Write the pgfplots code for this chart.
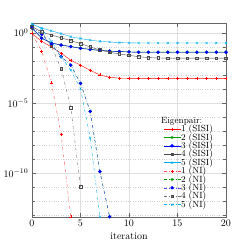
\documentclass[border=0pt]{standalone}
\usepackage{pgfplots}
\pgfplotsset{compat=1.18}
\definecolor{cgreen}{rgb}{0,0.6,0}
\definecolor{cgrey}{rgb}{0.3,0.3,0.3}
\begin{document}
\begin{tikzpicture}
\path[use as bounding box] (-32pt,-33pt) rectangle (218pt,217pt);
\begin{axis}[
  at={(0,0)}, anchor=south west,
  scale only axis, width=194pt, height=194pt,
  ymode=log, xmin=0, xmax=20, ymin=7.2e-14, ymax=5.1,
  xtick={0,5,10,15,20},
  ytick={1,1e-5,1e-10},
  minor ytick={1e-13,1e-12,1e-11,1e-9,1e-8,1e-7,1e-6,1e-4,1e-3,1e-2,1e-1},
  grid=both,
  major grid style={gray!25, line width=0.4pt},
  minor grid style={gray!35, dotted, line width=0.4pt},
  axis line style={gray!80!black},
  tick style={gray!80!black},
  tick align=inside,
  xlabel={iteration},
  xlabel style={yshift=1pt},
  clip mode=individual,
  every axis plot/.append style={line width=0.4pt, mark size=1.5pt},
  legend cell align=left,
  legend style={at={(rel axis cs:0.95,0.03)}, anchor=south east, draw=none, fill=none,
    font=\small, nodes={inner sep=0.2pt}, row sep=-0.25pt},
]
\addlegendimage{empty legend}
\addlegendentry{\hspace*{-20pt}Eigenpair:\rule[-6pt]{0pt}{6pt}}
% SISI
\addplot[red, mark=+] coordinates {(0,0.891)(1,0.251)(2,0.1)(3,0.0355)(4,0.0112)(5,5.01e-3)(6,2.14e-3)(7,1e-3)(8,6.76e-4)(9,5.89e-4)(10,5.75e-4)(11,5.75e-4)(12,5.75e-4)(13,5.75e-4)(14,5.75e-4)(15,5.75e-4)(16,5.75e-4)(17,5.75e-4)(18,5.75e-4)(19,5.75e-4)(20,5.75e-4)};
\addlegendentry{1 (SISI)}
\addplot[cgreen, mark=o] coordinates {(0,2.29)(1,0.42)(2,0.195)(3,0.138)(4,0.107)(5,0.081)(6,0.067)(7,0.057)(8,0.051)(9,0.047)(10,0.044)(11,0.042)(12,0.042)(13,0.042)(14,0.042)(15,0.042)(16,0.042)(17,0.042)(18,0.042)(19,0.042)(20,0.042)};
\addlegendentry{2 (SISI)}
\addplot[blue, mark=*] coordinates {(0,2.29)(1,0.417)(2,0.191)(3,0.135)(4,0.105)(5,0.0794)(6,0.0661)(7,0.0562)(8,0.0501)(9,0.0468)(10,0.0437)(11,0.0417)(12,0.0417)(13,0.0417)(14,0.0417)(15,0.0417)(16,0.0417)(17,0.0417)(18,0.0417)(19,0.0417)(20,0.0417)};
\addlegendentry{3 (SISI)}
\addplot[cgrey, mark=square, mark size=1.3pt] coordinates {(0,2.82)(1,1.17)(2,0.708)(3,0.447)(4,0.282)(5,0.174)(6,0.1)(7,0.0603)(8,0.0417)(9,0.0316)(10,0.0251)(11,0.02)(12,0.0174)(13,0.0162)(14,0.0158)(15,0.0158)(16,0.0158)(17,0.0158)(18,0.0158)(19,0.0158)(20,0.0158)};
\addlegendentry{4 (SISI)}
\addplot[cyan, mark=x] coordinates {(0,4.37)(1,2.24)(2,1.41)(3,0.891)(4,0.537)(5,0.398)(6,0.302)(7,0.251)(8,0.224)(9,0.204)(10,0.195)(11,0.191)(12,0.191)(13,0.191)(14,0.191)(15,0.191)(16,0.191)(17,0.191)(18,0.191)(19,0.191)(20,0.191)};
\addlegendentry{5 (SISI)}
% NI
\addplot[red!70, dashdotted, mark=+, mark options={solid, red}] coordinates {(0,0.891)(1,0.0501)(2,2.69e-4)(3,5.75e-8)(4,7.5e-14)};
\addlegendentry{1 (NI)}
\addplot[cgreen, dashdotted, mark=o, mark options={solid}] coordinates {(0,2.29)(1,0.794)(2,0.158)(3,0.02)(4,5.01e-3)(5,2.51e-4)(6,2.51e-6)(7,1.26e-10)(8,7.5e-14)};
\addlegendentry{2 (NI)}
\addplot[blue!70, dashdotted, mark=*, mark options={solid, blue}] coordinates {(0,2.29)(1,0.794)(2,0.158)(3,0.02)(4,5.01e-3)(5,2.51e-4)(6,2.51e-6)(7,1.26e-10)(8,7.5e-14)};
\addlegendentry{3 (NI)}
\addplot[cgrey!80, dashdotted, mark=square, mark size=1.3pt, mark options={solid, cgrey}] coordinates {(0,2.82)(1,1.17)(2,0.112)(3,2.82e-3)(4,4.68e-6)(5,1e-11)};
\addlegendentry{4 (NI)}
\addplot[cyan, dashdotted, mark=x, mark options={solid}] coordinates {(0,4.37)(1,2.0)(2,0.251)(3,0.02)(4,2.14e-3)(5,1.05e-4)(6,3.16e-8)(7,7.5e-14)};
\addlegendentry{5 (NI)}
\end{axis}
\end{tikzpicture}
\end{document}
